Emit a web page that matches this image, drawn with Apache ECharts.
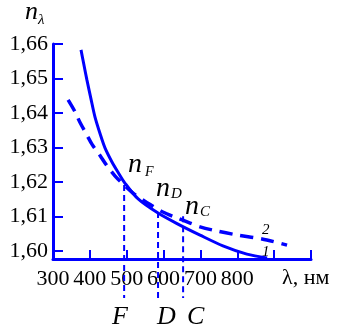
<!DOCTYPE html>
<html><head><meta charset="utf-8">
<script src="https://cdn.jsdelivr.net/npm/echarts@6/dist/echarts.min.js"></script>
<style>html,body{margin:0;padding:0;background:#fff}#c{width:338px;height:331px}</style>
</head><body><div id="c"></div>
<script>
// curve 1 (solid): wavelength (nm) and refractive index
const lambda1 = [376, 384, 392, 403, 414, 428, 441, 460, 476, 495, 531, 585, 639, 699, 761, 826, 881];
const n1 = [1.6583, 1.6539, 1.6496, 1.6441, 1.6388, 1.6339, 1.6299, 1.6258, 1.6229, 1.6197, 1.6151, 1.6110, 1.6078, 1.6046, 1.6015, 1.5991, 1.5980];
// curve 2 (dashed)
const lambda2 = [341, 360, 373, 392, 406, 428, 447, 468, 490, 517, 544, 571, 598, 636, 672, 699, 745, 802, 867, 935];
const n2 = [1.6438, 1.6403, 1.6373, 1.6336, 1.6309, 1.6276, 1.6246, 1.6218, 1.6194, 1.6168, 1.6148, 1.6130, 1.6113, 1.6096, 1.6081, 1.6070, 1.6058, 1.6046, 1.6035, 1.6017];
// Fraunhofer lines F, D, C
const lineNames = ['F', 'D', 'C'];
const lineLambda = [493, 585, 653];
const lineTopN = [1.6191, 1.6113, 1.6101];
const lineBottomN = 1.5864;
// axis ticks
const yTicks = [1.60, 1.61, 1.62, 1.63, 1.64, 1.65, 1.66];
const xMin = 300, xMax = 1000, xStep = 100, xLabelMax = 800;
const yMin = 1.59768, yMax = 1.66;

const BLUE = '#0000ff';
const SERIF = 'Liberation Serif';

const s1 = lambda1.map((l, i) => [l, n1[i]]);
const s2 = lambda2.map((l, i) => [l, n2[i]]);
const vlines = lineLambda.map((l, i) => ({
  type: 'line', data: [[l, lineTopN[i]], [l, lineBottomN]], clip: false, symbol: 'none',
  lineStyle: { color: BLUE, width: 2, type: [6, 4] }, silent: true, z: 1
}));

function txt(text, x, y, size, italic, extra) {
  return { type: 'text', x: x, y: y, style: Object.assign({
    text: text, fill: '#000', fontFamily: SERIF, fontSize: size, fontStyle: italic ? 'italic' : 'normal',
    verticalAlign: 'middle', align: 'left'
  }, extra || {}) };
}

const chart = echarts.init(document.getElementById('c'), null, { renderer: 'canvas' });
chart.setOption({
  animation: false,
  backgroundColor: '#fff',
  grid: { left: 53, right: 27, top: 44, bottom: 72, containLabel: false, outerBoundsMode: 'none' },
  xAxis: {
    type: 'value', min: xMin, max: xMax, interval: xStep,
    axisLine: { show: true, lineStyle: { color: BLUE, width: 3 } },
    axisTick: { show: true, inside: true, length: 9, lineStyle: { color: BLUE, width: 2 } },
    splitLine: { show: false },
    axisLabel: {
      margin: 9, color: '#000', fontFamily: SERIF, fontSize: 22,
      showMinLabel: true, showMaxLabel: true,
      formatter: v => (v <= xLabelMax ? String(v) : '')
    }
  },
  yAxis: {
    type: 'value', min: yMin, max: yMax,
    axisLine: { show: true, lineStyle: { color: BLUE, width: 3 } },
    axisTick: { show: true, inside: true, length: 10, lineStyle: { color: BLUE, width: 2 }, customValues: yTicks },
    splitLine: { show: false },
    axisLabel: {
      margin: 5, color: '#000', fontFamily: SERIF, fontSize: 22, customValues: yTicks,
      formatter: v => v.toFixed(2).replace('.', ',')
    }
  },
  series: [
    { type: 'line', data: s1, smooth: 0.3, symbol: 'none', lineStyle: { color: BLUE, width: 3 }, z: 3 },
    { type: 'line', data: s2, smooth: 0.3, symbol: 'none', lineStyle: { color: BLUE, width: 3.5, type: [13, 8] }, z: 3 }
  ].concat(vlines),
  graphic: [
    txt('n', 25, 12, 26, true),
    txt('λ', 38, 20.5, 15, true),
    txt('n', 128, 164.6, 28, true),
    txt('F', 145, 172.8, 14, true),
    txt('n', 156, 188.6, 28, true),
    txt('D', 171, 194.5, 15, true),
    txt('n', 185, 206.6, 28, true),
    txt('C', 200, 212.5, 15, true),
    txt('F', 112, 317, 26, true),
    txt('D', 157, 317, 26, true),
    txt('C', 187, 317, 26, true),
    txt('λ, нм', 282, 278, 22, false),
    txt('2', 262, 230.5, 15, true),
    txt('1', 262, 252.5, 15, true)
  ]
});
</script></body></html>
